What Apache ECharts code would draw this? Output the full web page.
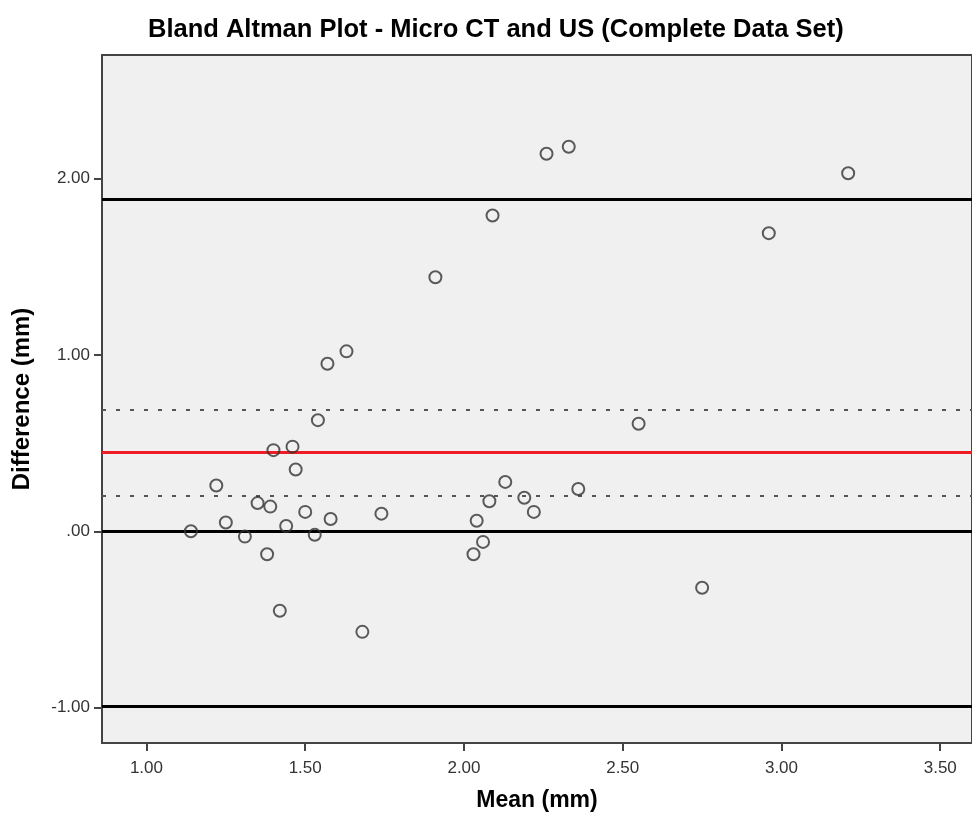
<!DOCTYPE html>
<html>
<head>
<meta charset="utf-8">
<title>Bland Altman Plot</title>
<script src="https://cdn.jsdelivr.net/npm/echarts@6/dist/echarts.min.js"></script>
<style>
  html, body { margin: 0; padding: 0; background: #fff; }
  #chart { width: 972px; height: 817px; }
</style>
</head>
<body>
<div id="chart"></div>
<script>
// mean of the two methods (mm)
const means = [1.14, 1.22, 1.25, 1.31, 1.35, 1.38, 1.39, 1.40, 1.42, 1.44, 1.46, 1.47,
  1.50, 1.53, 1.54, 1.57, 1.58, 1.63, 1.68, 1.74, 1.91, 2.03, 2.04, 2.06, 2.08, 2.09,
  2.13, 2.19, 2.22, 2.26, 2.33, 2.36, 2.55, 2.75, 2.96, 3.21]
// difference between the two methods (mm)
const diffs = [0.00, 0.26, 0.05, -0.03, 0.16, -0.13, 0.14, 0.46, -0.45, 0.03, 0.48, 0.35,
  0.11, -0.02, 0.63, 0.95, 0.07, 1.02, -0.57, 0.10, 1.44, -0.13, 0.06, -0.06, 0.17, 1.79,
  0.28, 0.19, 0.11, 2.14, 2.18, 0.24, 0.61, -0.32, 1.69, 2.03]

const meanDiff = 0.445
const limits = [1.88, -0.99, 0]      // limits of agreement + zero line
const ciLines = [0.69, 0.20]          // confidence interval of the mean difference

const xTicks = [1.0, 1.5, 2.0, 2.5, 3.0, 3.5]
const yTicks = [-1, 0, 1, 2]

let myChart = echarts.init(document.getElementById('chart'))

function fmt(v) {
  let s = Number(v).toFixed(2)
  if (s === '0.00') s = '.00'
  return s
}

let points = means.map((m, i) => [m, diffs[i]])

let refLines = []
limits.forEach(v => refLines.push({
  yAxis: v, lineStyle: { color: '#000', width: 3, type: 'solid' }
}))
refLines.push({ yAxis: meanDiff, lineStyle: { color: '#ee1c24', width: 3, type: 'solid' } })
ciLines.forEach(v => refLines.push({
  yAxis: v, lineStyle: { color: '#555', width: 2, type: [4, 10] }
}))

let option = {
  backgroundColor: '#fff',
  animation: false,
  title: {
    text: 'Bland Altman Plot - Micro CT and US (Complete Data Set)',
    left: 143,
    top: 12,
    textStyle: { fontFamily: 'Liberation Sans', fontSize: 25.5, fontWeight: 'bold', color: '#000' }
  },
  grid: {
    left: 102,
    top: 55,
    right: 0,
    bottom: 73,
    show: true,
    backgroundColor: '#f0f0f0',
    borderColor: '#444',
    borderWidth: 2
  },
  xAxis: {
    type: 'value',
    min: 0.86,
    max: 3.6,
    name: 'Mean (mm)',
    nameLocation: 'middle',
    nameGap: 46,
    nameTextStyle: { fontFamily: 'Liberation Sans', fontSize: 23, fontWeight: 'bold', color: '#000' },
    axisLine: { show: true, onZero: false, lineStyle: { color: '#444', width: 2 } },
    axisTick: { show: true, customValues: xTicks, length: 8, lineStyle: { color: '#444', width: 2 } },
    axisLabel: {
      customValues: xTicks,
      formatter: fmt,
      margin: 17,
      fontFamily: 'Liberation Sans',
      fontSize: 17,
      color: '#333'
    },
    splitLine: { show: false }
  },
  yAxis: {
    type: 'value',
    min: -1.2,
    max: 2.7,
    name: 'Difference (mm)',
    nameLocation: 'middle',
    nameGap: 68,
    nameTextStyle: { fontFamily: 'Liberation Sans', fontSize: 24, fontWeight: 'bold', color: '#000' },
    axisLine: { show: true, onZero: false, lineStyle: { color: '#444', width: 2 } },
    axisTick: { show: true, customValues: yTicks, length: 8, lineStyle: { color: '#444', width: 2 } },
    axisLabel: {
      customValues: yTicks,
      formatter: fmt,
      margin: 12,
      fontFamily: 'Liberation Sans',
      fontSize: 17,
      color: '#333'
    },
    splitLine: { show: false }
  },
  series: [
    {
      type: 'scatter',
      data: points,
      symbol: 'circle',
      symbolSize: 12,
      itemStyle: { color: 'rgba(0,0,0,0)', borderColor: '#333', borderWidth: 2 },
      z: 5,
      markLine: {
        silent: true,
        symbol: 'none',
        label: { show: false },
        z: 3,
        data: refLines
      }
    }
  ]
}
myChart.setOption(option)
window.addEventListener('resize', function() {
  myChart.resize()
})
</script>
</body>
</html>
